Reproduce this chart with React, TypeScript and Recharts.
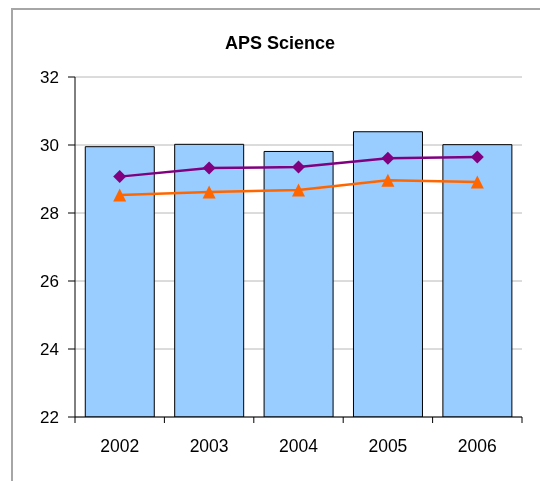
import React from "react";
import {
  ComposedChart,
  Bar,
  Line,
  XAxis,
  YAxis,
  CartesianGrid,
} from "recharts";

const categories = ["2002", "2003", "2004", "2005", "2006"];
const apsScience = [29.95, 30.02, 29.81, 30.39, 30.01];
const diamondSeries = [29.07, 29.32, 29.35, 29.61, 29.65];
const triangleSeries = [28.53, 28.62, 28.68, 28.96, 28.91];
const yTicks = [22, 24, 26, 28, 30, 32];

const data = categories.map((year, i) => ({
  year,
  aps: apsScience[i],
  diamond: diamondSeries[i],
  triangle: triangleSeries[i],
}));

const WIDTH = 524;
const HEIGHT = 465;
const MARGIN = { top: 69, right: 10, bottom: 16, left: 0 };
const Y_AXIS_WIDTH = 67;
const BAND = (WIDTH - MARGIN.left - MARGIN.right - Y_AXIS_WIDTH) / categories.length;
const FONT = "Arial, 'Liberation Sans', sans-serif";

const YearTick = (props: any) => {
  const { x, y, payload, index } = props;
  const left = x - BAND / 2;
  const right = x + BAND / 2;
  return (
    <g>
      <line x1={left} y1={y} x2={left} y2={y + 6} stroke="#000" />
      {index === categories.length - 1 && (
        <line x1={right} y1={y} x2={right} y2={y + 6} stroke="#000" />
      )}
      <text
        x={x}
        y={y + 35}
        textAnchor="middle"
        fontSize={17.5}
        fontFamily={FONT}
        fill="#000"
      >
        {payload.value}
      </text>
    </g>
  );
};

const diamondDot = (props: any) => {
  const { cx, cy, index } = props;
  const r = 6.5;
  return (
    <path
      key={`d-${index}`}
      d={`M${cx},${cy - r}L${cx + r},${cy}L${cx},${cy + r}L${cx - r},${cy}Z`}
      fill="#800080"
    />
  );
};

const triangleDot = (props: any) => {
  const { cx, cy, index } = props;
  const r = 6.5;
  return (
    <path
      key={`t-${index}`}
      d={`M${cx},${cy - r}L${cx + r},${cy + r}L${cx - r},${cy + r}Z`}
      fill="#ff6600"
    />
  );
};

export default function App() {
  return (
    <div style={{ position: "relative", width: WIDTH, height: HEIGHT }}>
      {/* outer frame, fixed so it can run past the window edge without scrollbars */}
      <div
        style={{
          position: "fixed",
          left: 11,
          top: 8,
          width: 700,
          height: 700,
          border: "2px solid #a6a6a6",
        }}
      />
      <div style={{ position: "absolute", left: 0, top: 0 }}>
        <ComposedChart width={WIDTH} height={HEIGHT} data={data} margin={MARGIN} barCategoryGap="11.5%">
          <text
            x={272}
            y={41}
            textAnchor="middle"
            fontSize={18}
            fontWeight="bold"
            fontFamily={FONT}
            fill="#000"
          >
            APS Science
          </text>
          <CartesianGrid vertical={false} stroke="#b8b8b8" />
          <XAxis
            dataKey="year"
            axisLine={{ stroke: "#000" }}
            tickLine={false}
            tickSize={0}
            tickMargin={0}
            height={40}
            tick={<YearTick />}
            interval={0}
          />
          <YAxis
            domain={[22, 32]}
            ticks={yTicks}
            width={Y_AXIS_WIDTH}
            axisLine={{ stroke: "#000" }}
            tickLine={{ stroke: "#000" }}
            tickSize={7}
            tickMargin={9}
            tick={{ fontSize: 17, fontFamily: FONT, fill: "#000" }}
            allowDataOverflow
          />
          <Bar dataKey="aps" fill="#99ccff" stroke="#000" strokeWidth={1} isAnimationActive={false} />
          <Line
            dataKey="diamond"
            stroke="#800080"
            strokeWidth={2.5}
            dot={diamondDot}
            activeDot={false}
            isAnimationActive={false}
          />
          <Line
            dataKey="triangle"
            stroke="#ff6600"
            strokeWidth={2.5}
            dot={triangleDot}
            activeDot={false}
            isAnimationActive={false}
          />
        </ComposedChart>
      </div>
    </div>
  );
}
